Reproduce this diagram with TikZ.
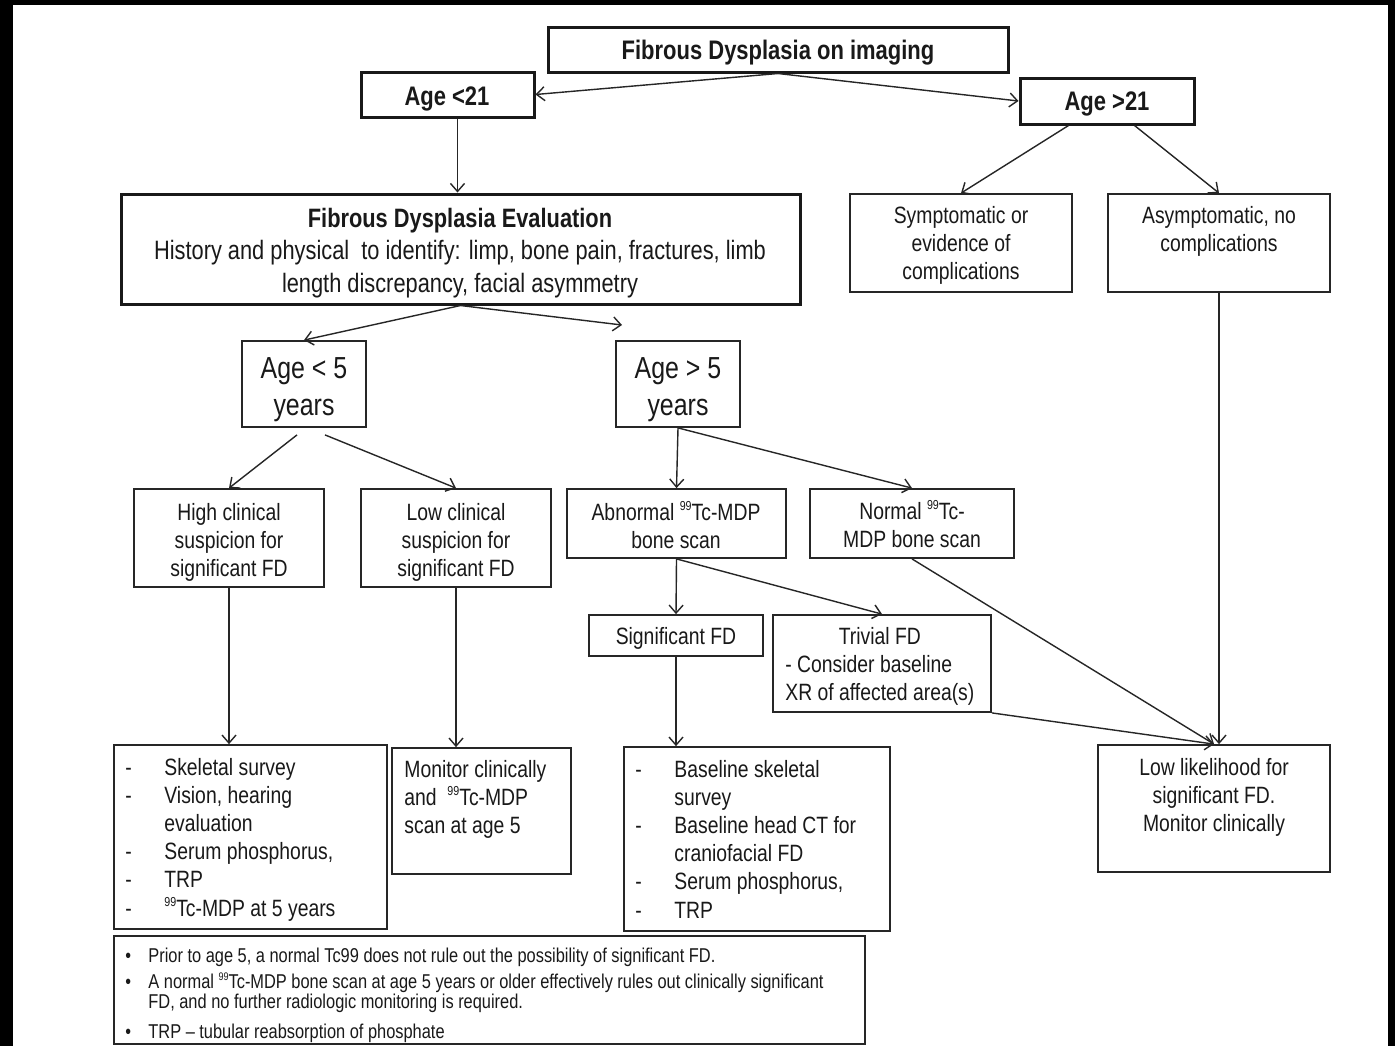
\documentclass[tikz,border=0pt]{standalone}
\usepackage{fontspec}
\setmainfont{Liberation Sans}[FakeStretch=0.82]
\usetikzlibrary{arrows.meta}
\newcommand\fmain{\fontsize{11.8}{14.1}\selectfont}
\newcommand\fhead{\fontsize{13.4}{14.1}\selectfont\bfseries}
\newcommand\fbig{\fontsize{15.2}{18.5}\selectfont}
\newcommand\fnote{\fontsize{10}{9.5}\selectfont}
\newcommand\ffde{\fontsize{13.3}{16.25}\selectfont}
\newcommand\tl[2]{\begin{tabular}[t]{@{}#1@{}}#2\end{tabular}}
\newcommand\bx[6]{\node[#6, minimum width={(#4-#2)*0.5pt}, minimum height={(#5-#3)*0.5pt}] (#1) at ({(#2+#4)/2},{(#3+#5)/2}) {};}
\newcommand\sps[1]{\raisebox{0.75ex}{\fontsize{6.5}{6.5}\selectfont #1}}
\newcommand\spn[1]{\raisebox{0.75ex}{\fontsize{5.5}{5.5}\selectfont #1}}
\begin{document}
\begin{tikzpicture}[x=0.5pt,y=-0.5pt,
  thickbox/.style={draw=black!90, line width=1.5pt, inner sep=0pt, rectangle},
  thinbox/.style={draw=black!85, line width=0.9pt, inner sep=0pt, rectangle},
  txt/.style={inner sep=0pt, text=black!90, font=\fmain},
  arr/.style={draw=black!85, line width=0.7pt, -{Straight Barb[length=4pt,width=7pt]}}]
\fill[black] (0,0) rectangle (1395,1046);
\fill[white] (13,5) rectangle (1388,1046);
\useasboundingbox (0,0) rectangle (1395,1046);
% boxes
\bx{top}{548}{27}{1008}{72}{thickbox}
\bx{young}{361}{72}{534}{117}{thickbox}
\bx{old}{1020}{78}{1194}{124}{thickbox}
\bx{fde}{121}{194}{800}{304}{thickbox}
\bx{symp}{850}{194}{1072}{292}{thinbox}
\bx{asym}{1108}{194}{1330}{292}{thinbox}
\bx{lt5}{242}{341}{366}{427}{thinbox}
\bx{gt5}{616}{341}{740}{427}{thinbox}
\bx{high}{134}{489}{324}{587}{thinbox}
\bx{low}{361}{489}{551}{587}{thinbox}
\bx{abn}{567}{489}{786}{558}{thinbox}
\bx{norm}{810}{489}{1014}{558}{thinbox}
\bx{sig}{589}{615}{763}{656}{thinbox}
\bx{triv}{773}{615}{991}{712}{thinbox}
\bx{skel}{114}{745}{387}{929}{thinbox}
\bx{mon}{392}{748}{571}{874}{thinbox}
\bx{base}{624}{747}{890}{931}{thinbox}
\bx{lowl}{1098}{745}{1330}{872}{thinbox}
\bx{notes}{114}{936}{865}{1044}{thinbox}
% texts
\node[txt,anchor=base,font=\fhead] (ttop) at (778,59) {Fibrous Dysplasia on imaging};
\node[txt,anchor=base,font=\fhead] (tyoung) at (447,105) {Age <21};
\node[txt,anchor=base,font=\fhead] (told) at (1107,110) {Age >21};
\node[txt,anchor=base,font=\ffde] (tfde) at (460,227) {\tl{c}{\textbf{Fibrous Dysplasia Evaluation}\\History and physical\ \ to identify: limp, bone pain, fractures, limb\\length discrepancy, facial asymmetry}};
\node[txt,anchor=base] (tsymp) at (961,223) {\tl{c}{Symptomatic or\\evidence of\\complications}};
\node[txt,anchor=base] (tasym) at (1219,223) {\tl{c}{Asymptomatic, no\\complications}};
\node[txt,anchor=base,font=\fbig] (tlt5) at (304,378) {\tl{c}{Age < 5\\years}};
\node[txt,anchor=base,font=\fbig] (tgt5) at (678,378) {\tl{c}{Age > 5\\years}};
\node[txt,anchor=base] (thigh) at (229,520) {\tl{c}{High clinical\\suspicion for\\significant FD}};
\node[txt,anchor=base] (tlow) at (456,520) {\tl{c}{Low clinical\\suspicion for\\significant FD}};
\node[txt,anchor=base] (tabn) at (676,520) {\tl{c}{Abnormal \sps{99}Tc-MDP\\bone scan}};
\node[txt,anchor=base] (tnorm) at (912,519) {\tl{c}{Normal \sps{99}Tc-\\MDP bone scan}};
\node[txt,anchor=base] (tsig) at (676,644) {Significant FD};
\node[txt,anchor=base west] (ttriv) at (785,644) {\tl{l}{\multicolumn{1}{@{}c@{}}{Trivial FD}\\- Consider baseline\\XR of affected area(s)}};
\node[txt,anchor=base west] (tskel) at (125,775) {\tl{p{19.5pt}@{}l}{-&Skeletal survey\\-&Vision, hearing\\&evaluation\\-&Serum phosphorus,\\-&TRP\\-&\sps{99}Tc-MDP at 5 years}};
\node[txt,anchor=base west] (tmon) at (404,777) {\tl{l}{Monitor clinically\\and \ \sps{99}Tc-MDP\\scan at age 5}};
\node[txt,anchor=base west] (tbase) at (635,777) {\tl{p{19.5pt}@{}l}{-&Baseline skeletal\\&survey\\-&Baseline head CT for\\&craniofacial FD\\-&Serum phosphorus,\\-&TRP}};
\node[txt,anchor=base] (tlowl) at (1214,775) {\tl{c}{Low likelihood for\\significant FD.\\Monitor clinically}};
\node[txt,anchor=base west,font=\fnote] (tnotes) at (125,962) {\tl{p{11.5pt}@{}l}{\textbullet&Prior to age 5, a normal Tc99 does not rule out the possibility of significant FD.\\[2.5pt]
\textbullet&A normal \spn{99}Tc-MDP bone scan at age 5 years or older effectively rules out clinically significant\\
&FD, and no further radiologic monitoring is required.\\[5pt]
\textbullet&TRP -- tubular reabsorption of phosphate}};
% connectors
\coordinate (gtend) at (622,325);
\draw[arr] (top.south) -- (young.east);
\draw[arr] (top.south) -- (old.west);
\draw[arr] ([xshift=5pt]young.south) -- ([xshift=5pt]young.south |- fde.north);
\draw[arr] ([xshift=25pt]old.south west) -- (symp.north);
\draw[arr] ([xshift=-30.5pt]old.south east) -- (asym.north);
\draw[arr] (fde.south) -- (lt5.north);
\draw[arr] (fde.south) -- (gtend);
\draw[arr] ([xshift=-3.5pt,yshift=-3.5pt]lt5.south) -- (high.north);
\draw[arr] ([xshift=10.5pt,yshift=-3.5pt]lt5.south) -- (low.north);
\draw[arr] (gt5.south) -- (abn.north);
\draw[arr] (gt5.south) -- (norm.north);
\draw[arr] (high.south) -- (high.south |- skel.north);
\draw[arr] (low.south) -- (low.south |- mon.north);
\draw[arr] (abn.south) -- (sig.north);
\draw[arr] (abn.south) -- (triv.north);
\draw[arr] (sig.south) -- (sig.south |- base.north);
\draw[arr] (norm.south) -- (lowl.north);
\draw[arr] (triv.south east) -- (lowl.north);
\draw[arr] (asym.south) -- (asym.south |- lowl.north);
\end{tikzpicture}
\end{document}
